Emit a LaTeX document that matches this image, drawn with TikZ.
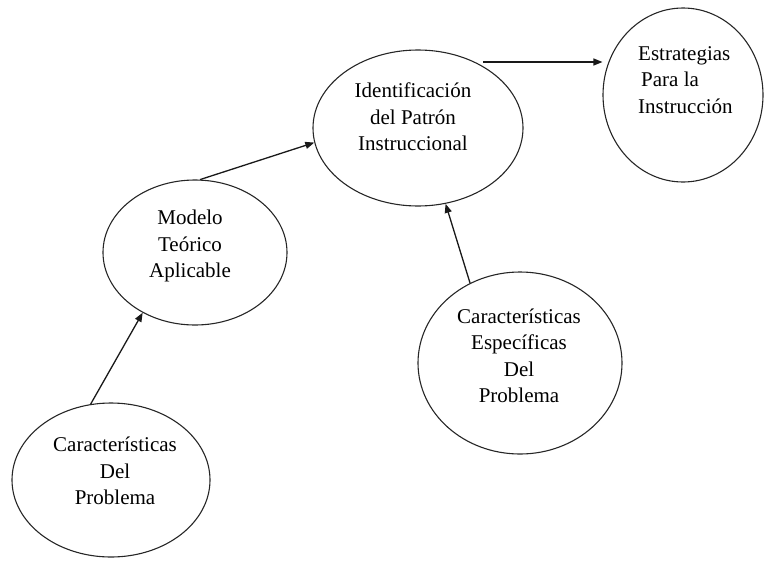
\documentclass[tikz,border=0pt]{standalone}
\usepackage{fontspec}
\setmainfont{Liberation Serif}
\usetikzlibrary{shapes.geometric,arrows.meta}
\begin{document}
\begin{tikzpicture}[x=1pt,y=-1pt,
  bubble/.style={ellipse,draw=black!85,line width=1.1pt,inner sep=0pt},
  txt/.style={font=\fontsize{21}{26.5}\selectfont,inner sep=0pt},
  arr/.style={-{Triangle[length=9pt,width=7pt]},line width=1.3pt,draw=black!90}]
\useasboundingbox (0,0) rectangle (765,560);
% ellipses
\node[bubble,minimum width=198pt,minimum height=154pt] (e1) at (111,480) {};
\node[bubble,minimum width=184pt,minimum height=145pt] (e2) at (195,252.5) {};
\node[bubble,minimum width=210pt,minimum height=156pt] (e3) at (418,128) {};
\node[bubble,minimum width=160pt,minimum height=174pt] (e4) at (683,95) {};
\node[bubble,minimum width=204pt,minimum height=182pt] (e5) at (520,363) {};
% texts
\node[txt,align=center] (t1) at (115,471) {Características\\Del\\Problema};
\node[txt,align=center] (t2) at (190,246) {Modelo\\Teórico\\Aplicable};
\node[txt,align=center] (t3) at (413,117) {Identificación\\del Patrón\\Instruccional};
\node[txt,align=left,anchor=west] (t4) at (638,80) {Estrategias\\\hspace{3pt}Para la\\Instrucción};
\node[txt,align=center] (t5) at (519,356) {Características\\Específicas\\Del\\Problema};
% connectors
\coordinate (s1) at (483,62);
\draw[arr] (e1.105) -- (e2.229);
\draw[arr] (e2.86) -- (e3.188);
\draw[arr] (s1) -- (s1 -| e4.west);
\draw[arr] (e5.122) -- (e3.290);
\end{tikzpicture}
\end{document}
